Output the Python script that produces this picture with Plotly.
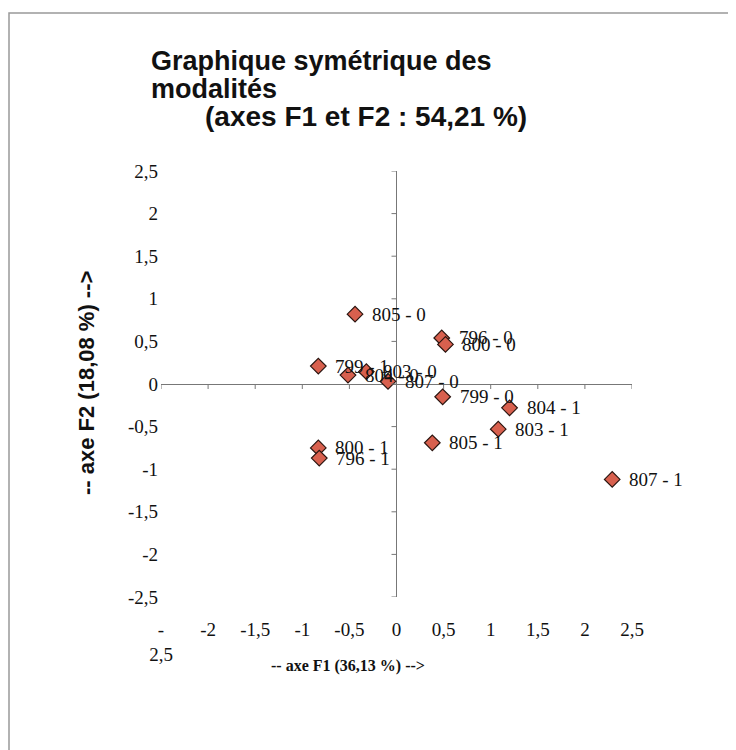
import plotly.graph_objects as go

# ---- data ----
labels = ["805 - 0", "796 - 0", "800 - 0", "799 - 1", "804 - 0", "803 - 0", "807 - 0",
          "799 - 0", "804 - 1", "803 - 1", "805 - 1", "800 - 1", "796 - 1", "807 - 1"]
f1 = [-0.44, 0.48, 0.52, -0.83, -0.515, -0.32, -0.09, 0.49, 1.20, 1.08, 0.38, -0.83, -0.82, 2.29]
f2 = [0.82, 0.54, 0.465, 0.21, 0.105, 0.145, 0.03, -0.15, -0.28, -0.53, -0.69, -0.75, -0.87, -1.12]

tick_vals = [-2.5, -2, -1.5, -1, -0.5, 0, 0.5, 1, 1.5, 2, 2.5]
x_tick_text = ["-<br>2,5", "-2", "-1,5", "-1", "-0,5", "0", "0,5", "1", "1,5", "2", "2,5"]
y_tick_text = ["-2,5", "-2", "-1,5", "-1", "-0,5", "0", "0,5", "1", "1,5", "2", "2,5"]

title_lines = ["Graphique symétrique des", "modalités", "(axes F1 et F2 : 54,21 %)"]
x_title = "-- axe F1 (36,13 %) -->"
y_title = "-- axe F2 (18,08 %) -->"

SERIF = "Liberation Serif, Times New Roman, serif"
SANS = "Liberation Sans, Arial, sans-serif"

W, H = 736, 750
L, R, T, B = 153, 624, 163, 589


def px(xp):
    return (xp - L) / (R - L)


def py(yp):
    return (B - yp) / (B - T)


fig = go.Figure()
fig.add_trace(go.Scatter(
    x=f1, y=f2, mode="markers",
    marker=dict(symbol="diamond", size=12, color="#D8604E",
                line=dict(color="#2a1510", width=1.2)),
    hoverinfo="skip", showlegend=False,
))

annotations = []
for xv, yv, t in zip(f1, f2, labels):
    annotations.append(dict(x=xv, y=yv, xref="x", yref="y", text=t, showarrow=False,
                            xanchor="left", yanchor="middle", xshift=15,
                            font=dict(family=SERIF, size=19, color="#111")))

# title lines
title_px = [141, 141, 195]
title_py = [53, 81, 108]
title_size = [27, 27, 28]
for t, xp, yp, fs in zip(title_lines, title_px, title_py, title_size):
    annotations.append(dict(x=px(xp), y=py(yp), xref="paper", yref="paper", text="<b>%s</b>" % t,
                            showarrow=False, xanchor="left", yanchor="middle",
                            font=dict(family=SANS, size=fs, color="#111")))

annotations.append(dict(x=px(340), y=py(658), xref="paper", yref="paper", text="<b>%s</b>" % x_title,
                        showarrow=False, xanchor="center", yanchor="middle",
                        font=dict(family=SERIF, size=16, color="#111")))
annotations.append(dict(x=px(78), y=py(375), xref="paper", yref="paper", text="<b>%s</b>" % y_title,
                        showarrow=False, xanchor="center", yanchor="middle", textangle=-90,
                        font=dict(family=SANS, size=22, color="#111")))

shapes = []
# tick marks along the zero axes
for v in tick_vals:
    shapes.append(dict(type="line", xref="x", yref="y", ysizemode="pixel", yanchor=0,
                       x0=v, x1=v, y0=0, y1=-5, line=dict(color="#777", width=1)))
    shapes.append(dict(type="line", xref="x", yref="y", xsizemode="pixel", xanchor=0,
                       y0=v, y1=v, x0=0, x1=-5, line=dict(color="#777", width=1)))
# outer chart frame
shapes.append(dict(type="rect", xref="paper", yref="paper",
                   x0=px(1), x1=px(728), y0=py(770), y1=py(5),
                   line=dict(color="#999", width=1.5)))

fig.update_layout(
    width=W, height=H,
    margin=dict(l=L, r=W - R, t=T, b=H - B),
    paper_bgcolor="white", plot_bgcolor="white",
    annotations=annotations, shapes=shapes,
    xaxis=dict(range=[-2.5, 2.5], tickvals=tick_vals, ticktext=x_tick_text,
               showgrid=False, zeroline=True, zerolinecolor="#777", zerolinewidth=1,
               showline=False, ticks="", ticklabelstandoff=19,
               tickfont=dict(family=SERIF, size=19, color="#111")),
    yaxis=dict(range=[-2.5, 2.5], tickvals=tick_vals, ticktext=y_tick_text,
               showgrid=False, zeroline=True, zerolinecolor="#777", zerolinewidth=1,
               showline=False, ticks="", ticklabelstandoff=2,
               tickfont=dict(family=SERIF, size=19, color="#111")),
)

fig.write_html("out.html")
